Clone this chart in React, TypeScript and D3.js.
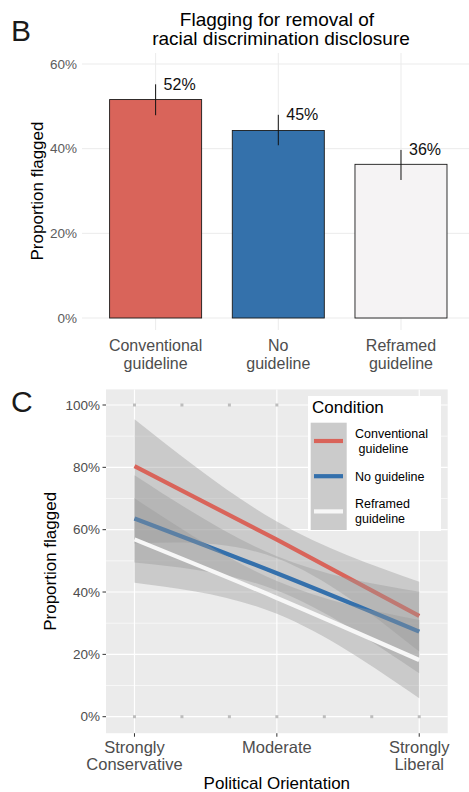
import React from 'react';
import * as d3 from 'd3';

// panel B: bars
const barConditions = ['Conventional\nguideline', 'No\nguideline', 'Reframed\nguideline'];
const barProportion = [0.516, 0.443, 0.363];
const barLower = [0.479, 0.408, 0.326];
const barUpper = [0.552, 0.48, 0.397];
const barLabels = ['52%', '45%', '36%'];
const barColors = ['#D9645A', '#3471AB', '#F5F3F4'];
const barTicks = [0, 0.2, 0.4, 0.6];

// panel C: fitted lines with confidence bands
const orientation = [1, 4, 7];
const orientationTicks = ['Strongly\nConservative', 'Moderate', 'Strongly\nLiberal'];
const conventionalFit = [0.804, 0.568, 0.323];
const conventionalLow = [0.556, 0.508, 0.209];
const conventionalHigh = [0.954, 0.626, 0.433];
const noGuideFit = [0.636, 0.46, 0.273];
const noGuideLow = [0.495, 0.405, 0.139];
const noGuideHigh = [0.775, 0.515, 0.401];
const reframedFit = [0.569, 0.381, 0.182];
const reframedLow = [0.43, 0.33, 0.059];
const reframedHigh = [0.701, 0.435, 0.31];
const lineLabels = ['Conventional\n guideline', 'No guideline', 'Reframed\nguideline'];
const lineColors = ['#D9645A', '#3470AC', '#F7F7F7'];
const pointLevels = [1, 2, 3, 4, 5, 6, 7];
const pointOutcomes = [0, 1];
const lineTicks = [0, 0.2, 0.4, 0.6, 0.8, 1];
const lineMinor = [0.1, 0.3, 0.5, 0.7, 0.9];

const font = '"Liberation Sans", Arial, Helvetica, sans-serif';
const pct = d3.format('.0%');

function Lines({ text, x, y, dy, ...rest }: any) {
  return (
    <text x={x} y={y} {...rest}>
      {text.split('\n').map((t: string, i: number) => (
        <tspan key={i} x={x} dy={i === 0 ? 0 : dy} style={{ whiteSpace: 'pre' }}>{t}</tspan>
      ))}
    </text>
  );
}

export default function App() {
  // ---- panel B
  const xB = d3.scaleLinear().domain([0.4, 3.6]).range([82, 474.6]);
  const yB = d3.scaleLinear().domain([0, 0.6]).range([318, 64]);
  const bw = xB(1.375) - xB(1);

  // ---- panel C
  const xC = d3.scaleLinear().domain([0.4, 7.6]).range([106, 447.7]);
  const yC = d3.scaleLinear().domain([0, 1]).range([716.7, 405]);
  const panelTop = yC(1.05), panelBottom = yC(-0.053);
  const series = [
    { fit: conventionalFit, lo: conventionalLow, hi: conventionalHigh },
    { fit: noGuideFit, lo: noGuideLow, hi: noGuideHigh },
    { fit: reframedFit, lo: reframedLow, hi: reframedHigh },
  ];
  const area = d3.area<number>()
    .x((_, i) => xC(orientation[i]))
    .curve(d3.curveNatural);
  const line = d3.line<number>()
    .x((_, i) => xC(orientation[i]))
    .y((d) => yC(d))
    .curve(d3.curveNatural);

  return (
    <svg width={469} height={792} style={{ position: 'absolute', left: 0, top: 0 }} fontFamily={font}>
      <rect width={469} height={792} fill="#fff" />

      {/* ===== B ===== */}
      <text x={11} y={40.5} fontSize={30} fill="#1a1a1a">B</text>
      <text x={277} y={25.5} fontSize={19} textAnchor="middle">Flagging for removal of</text>
      <text x={281} y={45} fontSize={19} textAnchor="middle">racial discrimination disclosure</text>

      {barTicks.map((t) => (
        <g key={t}>
          <line x1={82} x2={469} y1={yB(t)} y2={yB(t)} stroke="#EBEBEB" strokeWidth={1} />
          <text x={77} y={yB(t) + 4.7} fontSize={13.5} textAnchor="end" fill="#5c5c5c">{pct(t)}</text>
        </g>
      ))}
      {barConditions.map((c, i) => (
        <line key={c} x1={xB(i + 1)} x2={xB(i + 1)} y1={53} y2={330} stroke="#EBEBEB" strokeWidth={1} />
      ))}
      {barConditions.map((c, i) => (
        <g key={'b' + c}>
          <rect x={xB(i + 1) - bw} y={yB(barProportion[i])} width={bw * 2}
            height={yB(0) - yB(barProportion[i])} fill={barColors[i]} stroke="#1a1a1a" strokeWidth={0.9} />
          <line x1={xB(i + 1)} x2={xB(i + 1)} y1={yB(barLower[i])} y2={yB(barUpper[i])} stroke="#111" strokeWidth={1} />
          <text x={xB(i + 1) + 8} y={yB(barUpper[i]) + 5.5} fontSize={16} fill="#111">{barLabels[i]}</text>
          <Lines text={c} x={xB(i + 1)} y={351} dy={18} fontSize={16} textAnchor="middle" fill="#4D4D4D" />
        </g>
      ))}
      <text transform={`translate(43,${(yB(0) + yB(0.6)) / 2}) rotate(-90)`} fontSize={17} textAnchor="middle">Proportion flagged</text>

      {/* ===== C ===== */}
      <text x={11} y={412} fontSize={30} fill="#1a1a1a">C</text>
      <rect x={xC(0.4)} y={panelTop} width={xC(7.6) - xC(0.4)} height={panelBottom - panelTop} fill="#EBEBEB" />
      {lineMinor.map((t) => (
        <line key={t} x1={xC(0.4)} x2={xC(7.6)} y1={yC(t)} y2={yC(t)} stroke="#fff" strokeWidth={0.6} />
      ))}
      {lineTicks.map((t) => (
        <line key={t} x1={xC(0.4)} x2={xC(7.6)} y1={yC(t)} y2={yC(t)} stroke="#fff" strokeWidth={1.2} />
      ))}
      {orientation.map((o) => (
        <line key={o} x1={xC(o)} x2={xC(o)} y1={panelTop} y2={panelBottom} stroke="#fff" strokeWidth={1.2} />
      ))}
      {pointLevels.map((l) => pointOutcomes.map((p) => (
        <rect key={l + '-' + p} x={xC(l) - 1.5} y={yC(p) - 1.5} width={3} height={3} fill="#BDBDBD" />
      )))}
      {series.map((s, i) => (
        <g key={i}>
          <path d={area.y0((_, j) => yC(s.lo[j])).y1((_, j) => yC(s.hi[j]))(s.fit) || ''} fill="#999999" fillOpacity={0.4} />
          <path d={line(s.fit) || ''} fill="none" stroke={lineColors[i]} strokeWidth={4.2} />
        </g>
      ))}

      {lineTicks.map((t) => (
        <g key={'t' + t}>
          <line x1={xC(0.4) - 3.5} x2={xC(0.4)} y1={yC(t)} y2={yC(t)} stroke="#333" strokeWidth={1} />
          <text x={xC(0.4) - 6} y={yC(t) + 4.7} fontSize={13.5} textAnchor="end" fill="#4D4D4D">{pct(t)}</text>
        </g>
      ))}
      {orientation.map((o, i) => (
        <g key={'x' + o}>
          <line x1={xC(o)} x2={xC(o)} y1={panelBottom} y2={panelBottom + 3.5} stroke="#333" strokeWidth={1} />
          <Lines text={orientationTicks[i]} x={xC(o)} y={752.5} dy={17} fontSize={16.5} textAnchor="middle" fill="#4D4D4D" />
        </g>
      ))}
      <text x={(xC(0.4) + xC(7.6)) / 2} y={789} fontSize={17} textAnchor="middle">Political Orientation</text>
      <text transform={`translate(56,${(panelTop + panelBottom) / 2}) rotate(-90)`} fontSize={17} textAnchor="middle">Proportion flagged</text>

      {/* legend */}
      <rect x={308} y={396} width={133} height={135} fill="#fff" />
      <text x={312} y={413} fontSize={17}>Condition</text>
      <rect x={310.7} y={422.7} width={36} height={107.3} fill="#CBCBCB" />
      {lineLabels.map((lab, i) => {
        const cy = 441 + i * 35.2;
        const n = lab.split('\n').length;
        return (
          <g key={lab}>
            <line x1={314} x2={343} y1={cy} y2={cy} stroke={lineColors[i]} strokeWidth={4.2} />
            <Lines text={lab} x={355} y={cy + 4.5 - (n - 1) * 7.5} dy={15} fontSize={12.5} />
          </g>
        );
      })}
    </svg>
  );
}
